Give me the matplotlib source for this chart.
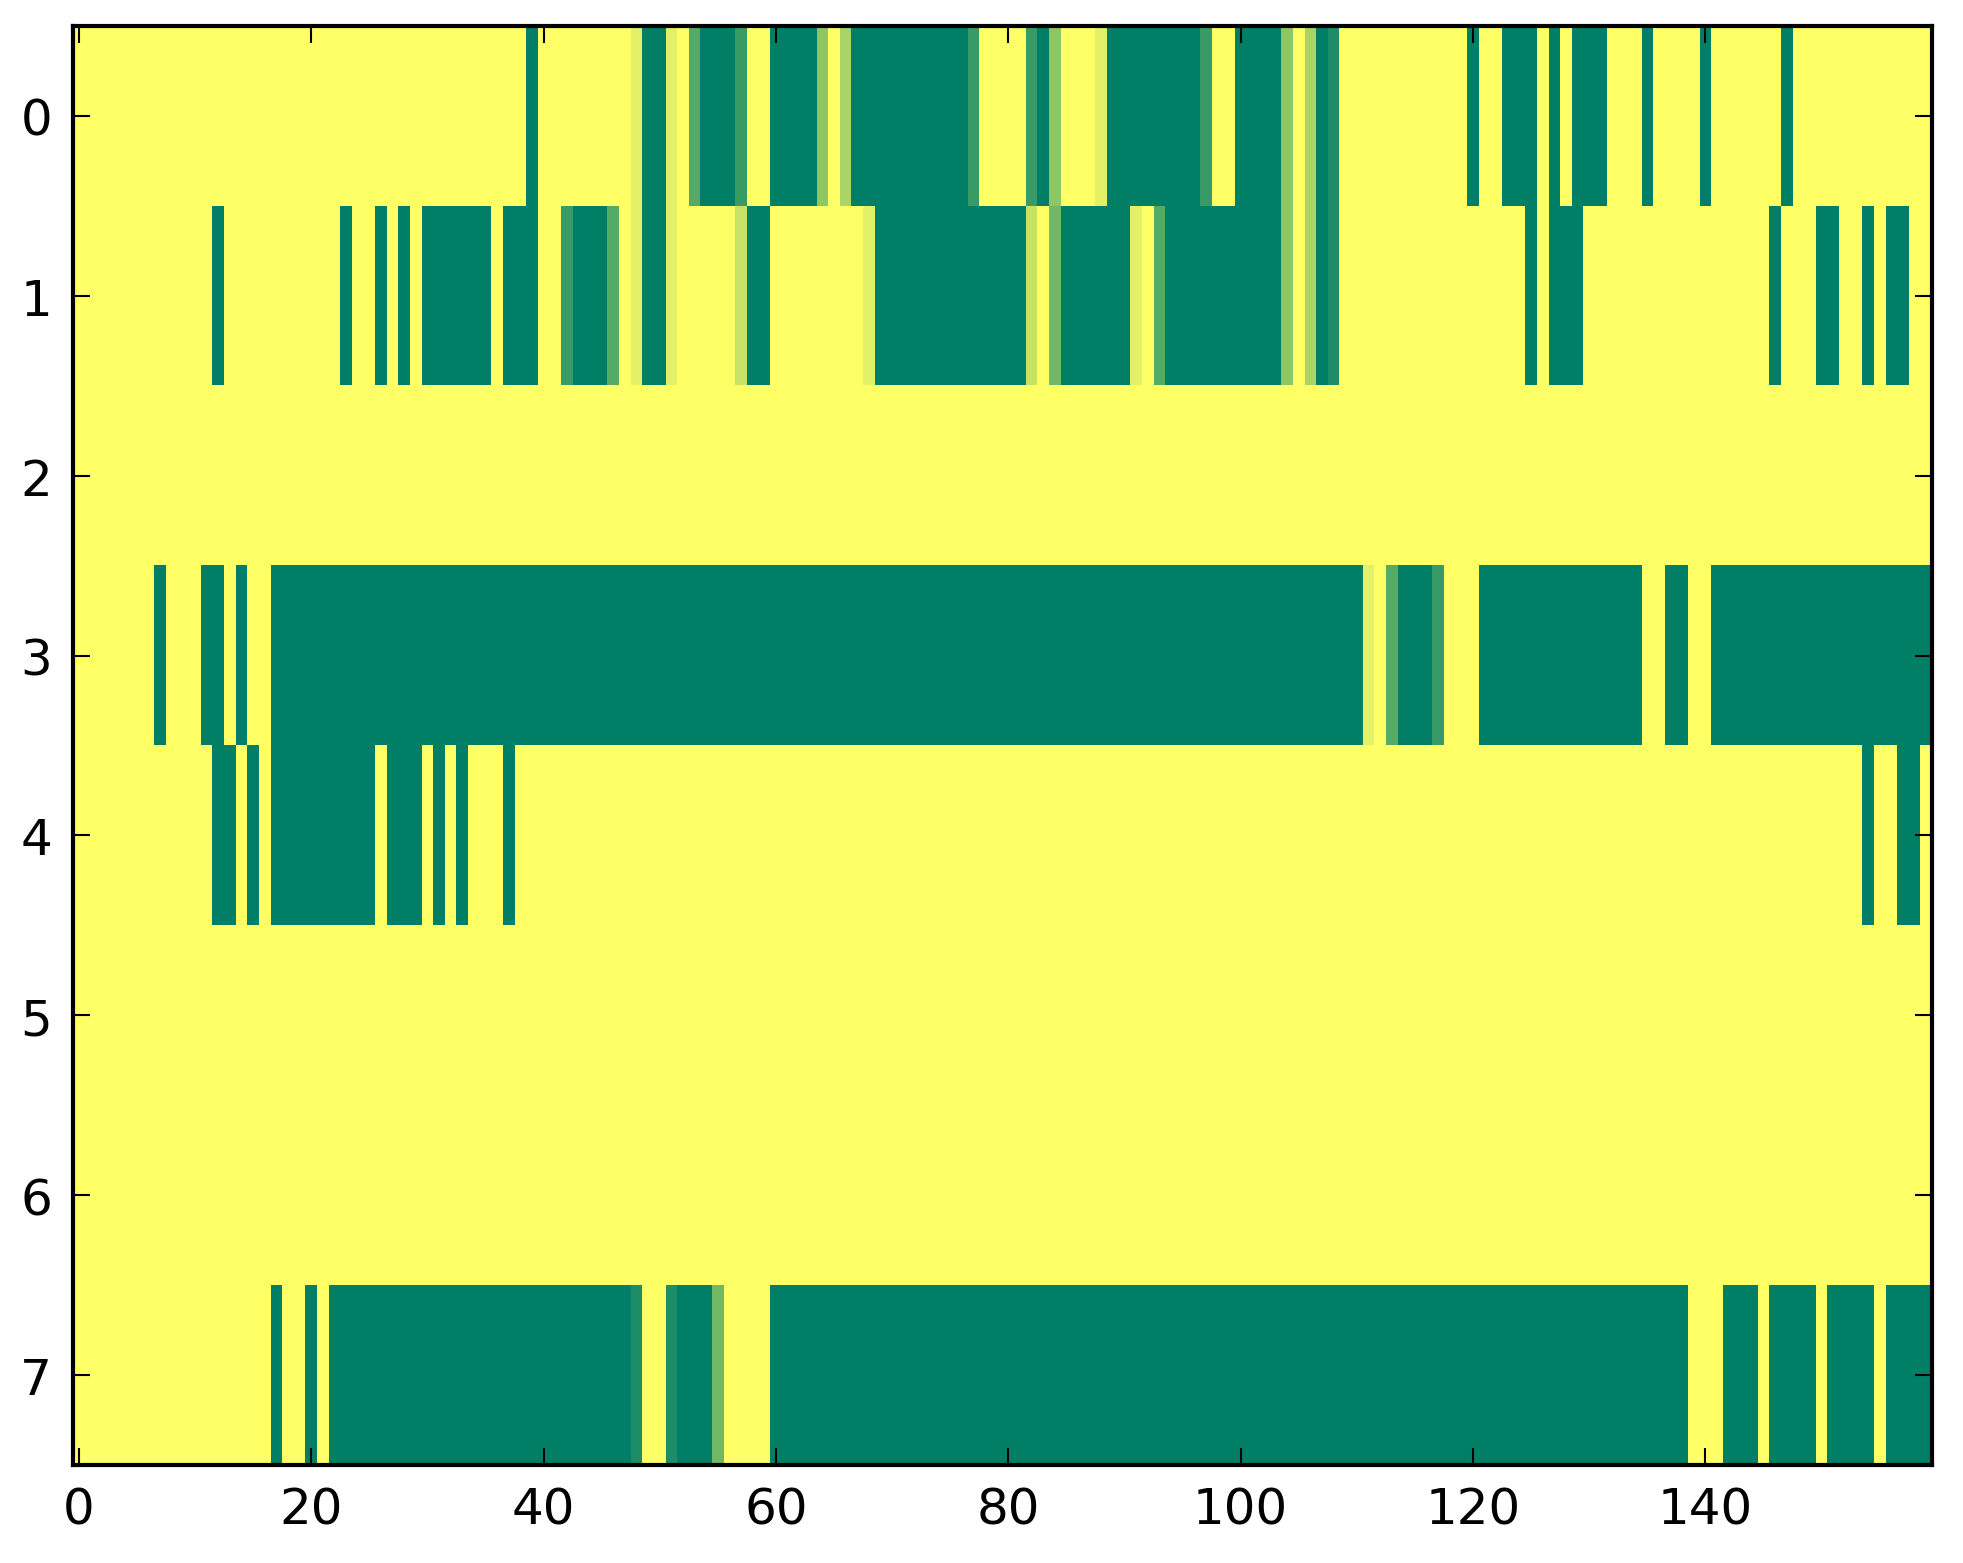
import matplotlib.pyplot as plt
import numpy as np


# Cell levels, one digit per column (0 = yellow, 9 = dark green)
row_0 = ("0000000000" "0000000000" "0000000000" "0000000009"
         "0000000019" "9106999700" "9999403999" "9999999700"
         "0079400019" "9999999700" "9999403980" "0000000000"
         "9009990909" "9900090000" "9000000900" "0000000000")
row_1 = ("0000000000" "0090000000" "0009009090" "9999990999"
         "0079996019" "9100000299" "0000000019" "9999999999"
         "9920599999" "9106999999" "9999403980" "0000000000"
         "0000090999" "0000000000" "0000009000" "9900909900")
row_2 = ("0000000000" "0000000000" "0000000000" "0000000000"
         "0000000000" "0000000000" "0000000000" "0000000000"
         "0000000000" "0000000000" "0000000000" "0000000000"
         "0000000000" "0000000000" "0000000000" "0000000000")
row_3 = ("0000000900" "0990900999" "9999999999" "9999999999"
         "9999999999" "9999999999" "9999999999" "9999999999"
         "9999999999" "9999999999" "9999999999" "9106999700"
         "0999999999" "9999900990" "0999999999" "9999999999")
row_4 = ("0000000000" "0099090999" "9999990999" "0909000900"
         "0000000000" "0000000000" "0000000000" "0000000000"
         "0000000000" "0000000000" "0000000000" "0000000000"
         "0000000000" "0000000000" "0000000000" "0000900990")
row_5 = row_2
row_6 = row_2
row_7 = ("0000000000" "0000000900" "9099999999" "9999999999"
         "9999999980" "0899950000" "9999999999" "9999999999"
         "9999999999" "9999999999" "9999999999" "9999999999"
         "9999999999" "9999999990" "0099909999" "0999909999")

x_ticks = [0, 20, 40, 60, 80, 100, 120, 140]
y_ticks = [0, 1, 2, 3, 4, 5, 6, 7]


def to_levels(s):
    return [int(c) for c in s]


def main():
    rows = [row_0, row_1, row_2, row_3, row_4, row_5, row_6, row_7]
    grid = np.array([to_levels(r) for r in rows], dtype=float)

    W, H = 1963, 1564
    fig = plt.figure(figsize=(W / 300, H / 300), dpi=300, facecolor="white")
    ax = fig.add_axes([73 / W, 1 - 1466 / H, (1932 - 73) / W, (1466 - 27) / H])

    ax.imshow(grid, cmap="summer_r", interpolation="nearest", aspect="auto")

    ax.set_xticks(x_ticks)
    ax.set_yticks(y_ticks)
    ax.tick_params(direction="in", top=True, right=True, length=4,
                   width=0.5, labelsize=12, pad=5)
    for sp in ax.spines.values():
        sp.set_linewidth(1.0)

    fig.savefig("out.png", dpi=300, facecolor="white")


if __name__ == "__main__":
    main()
